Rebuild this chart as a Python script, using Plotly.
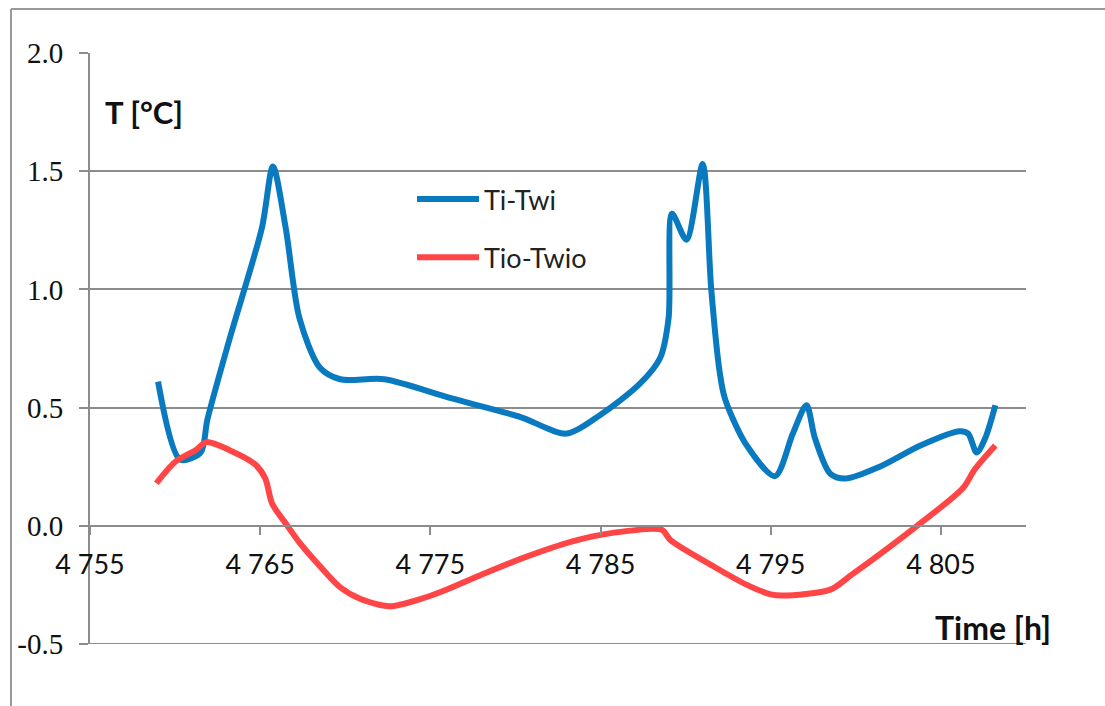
import plotly.graph_objects as go

# Ti-Twi (blue)
t_blue = [4759.0, 4760.3, 4761.5, 4761.9, 4763.2, 4765.1, 4765.75, 4766.5, 4767.3, 4768.5,
          4769.7, 4772.3, 4776.2, 4780.3, 4783.0, 4785.0, 4787.3, 4788.5, 4789.0, 4789.2,
          4790.05, 4791.0, 4791.5, 4792.0, 4792.3, 4793.5, 4795.25, 4796.3, 4797.1, 4797.6,
          4798.5, 4799.4, 4801.4, 4803.8, 4806.1, 4806.6, 4807.1, 4807.6, 4808.2]
v_blue = [0.61, 0.28, 0.31, 0.45, 0.79, 1.26, 1.52, 1.26, 0.88, 0.67,
          0.62, 0.62, 0.54, 0.46, 0.39, 0.47, 0.60, 0.71, 0.88, 1.32,
          1.21, 1.53, 1.005, 0.65, 0.54, 0.35, 0.21, 0.39, 0.51, 0.37,
          0.22, 0.20, 0.25, 0.34, 0.40, 0.39, 0.31, 0.37, 0.51]

# Tio-Twio (red)
t_red = [4758.9, 4760.0, 4761.2, 4761.85, 4763.2, 4764.7, 4765.3, 4765.7, 4766.5, 4767.3,
         4768.5, 4769.7, 4770.9, 4772.6, 4774.4, 4775.6, 4777.9, 4780.3, 4783.4, 4785.7,
         4788.6, 4789.1, 4791.6, 4793.6, 4795.0, 4795.7, 4798.5, 4799.7, 4803.6, 4806.3,
         4807.0, 4808.2]
v_red = [0.18, 0.27, 0.32, 0.354, 0.32, 0.26, 0.20, 0.094, 0.01, -0.07,
         -0.17, -0.26, -0.31, -0.34, -0.31, -0.28, -0.21, -0.14, -0.065, -0.03,
         -0.017, -0.06, -0.17, -0.25, -0.29, -0.295, -0.27, -0.21, 0.0, 0.16,
         0.24, 0.34]

x_tickvals = [4755, 4765, 4775, 4785, 4795, 4805]
x_ticktext = ["4 755", "4 765", "4 775", "4 785", "4 795", "4 805"]
y_tickvals = [-0.5, 0.0, 0.5, 1.0, 1.5, 2.0]
y_ticktext = ["-0.5", "0.0", "0.5", "1.0", "1.5", "2.0"]

BLUE = "#0A7AC0"
RED = "#FF4545"
GRID = "#8C8C8C"
SANS = "Lato, 'Open Sans', sans-serif"
SERIF = "'Liberation Serif', 'Times New Roman', serif"

fig = go.Figure()
fig.add_trace(go.Scatter(x=t_blue, y=v_blue, mode="lines", name="Ti-Twi",
                         legendgroup="a",
                         line=dict(color=BLUE, width=6, shape="spline", smoothing=0.8)))
fig.add_trace(go.Scatter(x=t_red, y=v_red, mode="lines", name="Tio-Twio",
                         legendgroup="b",
                         line=dict(color=RED, width=6, shape="spline", smoothing=0.8)))

W, H = 1105, 706
L, R, T, B = 90, 79, 53, 62
pw = W - L - R
ph = H - T - B

def px(x):
    return (x - L) / pw

def py(y):
    return (H - B - y) / ph

fig.update_layout(
    width=W, height=H,
    margin=dict(l=L, r=R, t=T, b=B),
    paper_bgcolor="white", plot_bgcolor="white",
    showlegend=True,
    legend=dict(x=px(412), y=py(175), xanchor="left", yanchor="top",
                font=dict(family=SANS, size=27, color="#222"),
                bgcolor="rgba(0,0,0,0)", tracegroupgap=20, itemwidth=62,
                traceorder="grouped"),
    xaxis=dict(range=[4755, 4810], tickvals=x_tickvals, ticktext=x_ticktext,
               showgrid=False, zeroline=False, showline=True, linecolor=GRID, linewidth=2,
               ticks="outside", ticklen=8, tickwidth=2, tickcolor=GRID,
               anchor="free", position=0.2, automargin=False, ticklabelstandoff=7,
               tickfont=dict(family=SANS, size=27, color="#111")),
    yaxis=dict(range=[-0.5, 2.0], tickvals=y_tickvals, ticktext=y_ticktext,
               showgrid=True, gridcolor=GRID, gridwidth=2, zeroline=False,
               showline=True, linecolor=GRID, linewidth=2, automargin=False,
               ticks="outside", ticklen=9, tickwidth=2, tickcolor=GRID,
               ticklabelstandoff=10,
               tickfont=dict(family=SERIF, size=29, color="#111")),
    annotations=[
        dict(text="<b>T [°C]</b>", xref="paper", yref="paper", x=px(103), y=py(112),
             xanchor="left", yanchor="middle", showarrow=False,
             font=dict(family=SANS, size=31, color="#111")),
        dict(text="<b>Time [h]</b>", xref="paper", yref="paper", x=px(933), y=py(627),
             xanchor="left", yanchor="middle", showarrow=False,
             font=dict(family=SANS, size=32, color="#111")),
    ],
    shapes=[
        dict(type="line", xref="paper", yref="y", x0=0, x1=1, y0=-0.5, y1=-0.5,
             line=dict(color=GRID, width=2), layer="below"),
        dict(type="line", xref="paper", yref="paper", x0=px(11), x1=px(11), y0=py(9), y1=py(706),
             line=dict(color="#999", width=2)),
        dict(type="line", xref="paper", yref="paper", x0=px(11), x1=px(1105), y0=py(9), y1=py(9),
             line=dict(color="#999", width=2)),
    ],
)

fig.write_html("out.html", config={"displayModeBar": False},
               post_script="document.body.style.margin='0px';")
